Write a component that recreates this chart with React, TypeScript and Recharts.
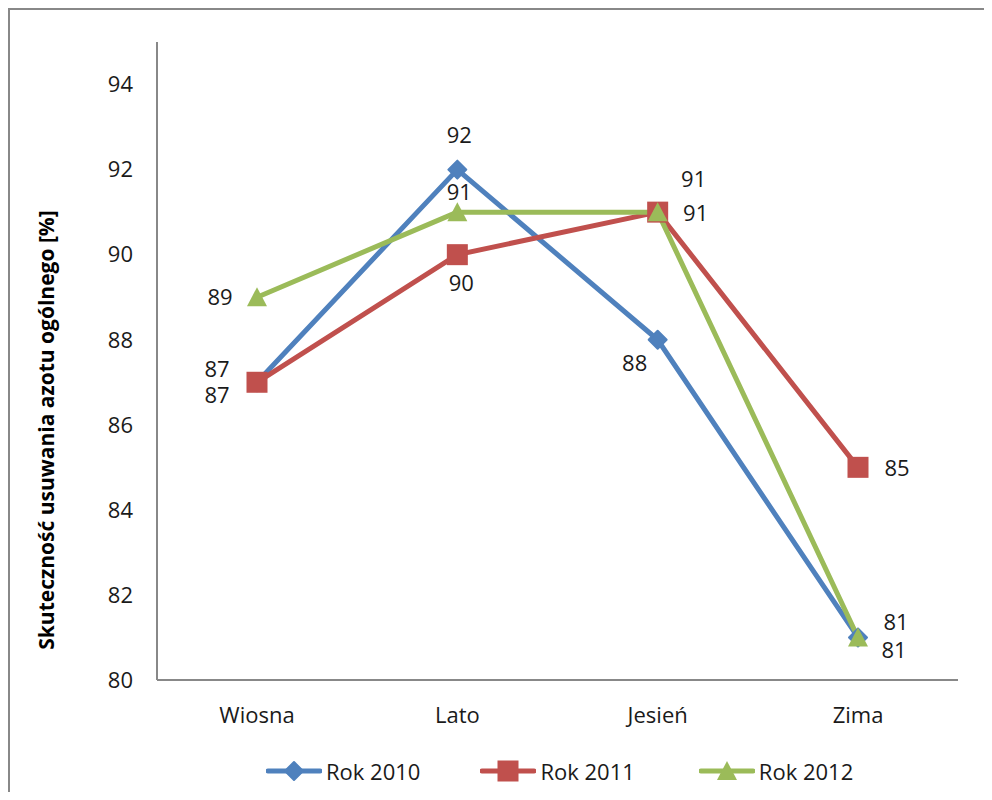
import { LineChart, Line, XAxis, YAxis, Legend, LabelList } from 'recharts'

const seasons = ['Wiosna', 'Lato', 'Jesień', 'Zima']
const rok2010 = [87, 92, 88, 81]
const rok2011 = [87, 90, 91, 85]
const rok2012 = [89, 91, 91, 81]
const yTicks = [80, 82, 84, 86, 88, 90, 92, 94]

// label offsets relative to each point (dx, dy)
const off2010 = [[-40, -13], [2, -34], [-23, 23], [38, -15]]
const off2011 = [[-40, 13], [4, 29], [36, -33], [39, 1]]
const off2012 = [[-37, 0], [2, -20], [38, 1], [36, 13]]

const data = seasons.map((s, i) => ({
  season: s,
  r2010: rok2010[i],
  r2011: rok2011[i],
  r2012: rok2012[i],
}))

const FONT = '"Open Sans", sans-serif'
const BLUE = '#4F81BD'
const RED = '#C0504D'
const GREEN = '#9BBB59'

function Diamond({ cx, cy, fill }: any) {
  const r = 9
  return <path d={`M${cx},${cy - r}L${cx + r},${cy}L${cx},${cy + r}L${cx - r},${cy}Z`} fill={fill} stroke={fill} strokeLinejoin="round" strokeWidth={2} />
}
function Square({ cx, cy, fill }: any) {
  return <rect x={cx - 10.5} y={cy - 10.5} width={21} height={21} fill={fill} />
}
function Triangle({ cx, cy, fill }: any) {
  return <path d={`M${cx},${cy - 10}L${cx + 10},${cy + 9}L${cx - 10},${cy + 9}Z`} fill={fill} />
}

const makeDot = (Shape: any, fill: string) => (p: any) =>
  <Shape key={`d-${p.index}`} cx={p.cx} cy={p.cy} fill={fill} />

const makeLabel = (offsets: number[][]) => (p: any) => {
  const o = offsets[p.index] || [0, 0]
  return (
    <text key={`l-${p.index}`} x={p.x + o[0]} y={p.y + o[1]} dy="0.355em" textAnchor="middle"
      fontFamily={FONT} fontSize={22} fill="#1a1a1a">
      {p.value}
    </text>
  )
}

const legendItems = [
  { name: 'Rok 2010', color: BLUE, Shape: Diamond, gap: 60 },
  { name: 'Rok 2011', color: RED, Shape: Square, gap: 64 },
  { name: 'Rok 2012', color: GREEN, Shape: Triangle, gap: 0 },
]

function CustomLegend() {
  return (
    <div style={{ display: 'flex', alignItems: 'center', fontFamily: FONT, fontSize: 22, color: '#1a1a1a' }}>
      {legendItems.map((it) => (
        <div key={it.name} style={{ display: 'flex', alignItems: 'center', marginRight: it.gap }}>
          <svg width={56} height={24} style={{ marginRight: 4 }}>
            <line x1={2} y1={12} x2={54} y2={12} stroke={it.color} strokeWidth={5} strokeLinecap="round" />
            <it.Shape cx={28} cy={12} fill={it.color} />
          </svg>
          <span>{it.name}</span>
        </div>
      ))}
    </div>
  )
}

function YTitle() {
  const x = 37
  const y = 420
  return (
    <text x={x} y={y} transform={`rotate(-90 ${x} ${y})`} textAnchor="middle" dy="0.355em"
      fontFamily={FONT} fontSize={21} fontWeight="bold" fill="#000">
      Skuteczność usuwania azotu ogólnego [%]
    </text>
  )
}

export default function App() {
  return (
    <div style={{ width: 984, borderTop: '2px solid #888', borderLeft: '2px solid #888', background: '#fff' }}>
      <LineChart width={982} height={782} data={data} margin={{ top: 32, right: 34, left: 0, bottom: 52 }}>
        <XAxis dataKey="season" height={60} padding={{ left: 100, right: 100 }}
          axisLine={{ stroke: '#888', strokeWidth: 2 }} tickLine={false}
          tickSize={0} tickMargin={27} tick={{ fontFamily: FONT, fontSize: 22, fill: '#1a1a1a' }} />
        <YAxis width={147} domain={[80, 95]} ticks={yTicks} interval={0} axisLine={{ stroke: '#888', strokeWidth: 2 }}
          tickLine={false} tickSize={0} tickMargin={24} tick={{ fontFamily: FONT, fontSize: 22, fill: '#1a1a1a' }}
          label={{ content: <YTitle /> }} />
        <Legend layout="horizontal" verticalAlign="middle" align="center" content={<CustomLegend />}
          wrapperStyle={{ top: 746, left: 256, width: 660 }} />
        <Line dataKey="r2010" name="Rok 2010" stroke={BLUE} strokeWidth={5} strokeLinejoin="round"
          dot={makeDot(Diamond, BLUE)} activeDot={false} isAnimationActive={false}>
          <LabelList dataKey="r2010" content={makeLabel(off2010)} />
        </Line>
        <Line dataKey="r2011" name="Rok 2011" stroke={RED} strokeWidth={5} strokeLinejoin="round"
          dot={makeDot(Square, RED)} activeDot={false} isAnimationActive={false}>
          <LabelList dataKey="r2011" content={makeLabel(off2011)} />
        </Line>
        <Line dataKey="r2012" name="Rok 2012" stroke={GREEN} strokeWidth={5} strokeLinejoin="round"
          dot={makeDot(Triangle, GREEN)} activeDot={false} isAnimationActive={false}>
          <LabelList dataKey="r2012" content={makeLabel(off2012)} />
        </Line>
      </LineChart>
    </div>
  )
}
